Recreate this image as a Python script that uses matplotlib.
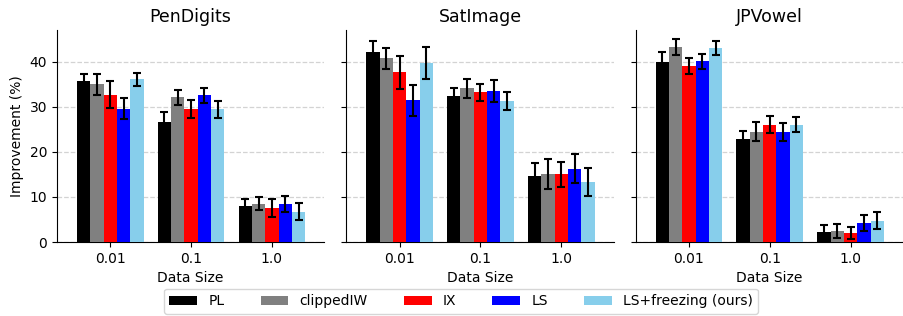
import matplotlib
matplotlib.use("Agg")
import matplotlib.pyplot as plt
import numpy as np

datasets = ["PenDigits", "SatImage", "JPVowel"]
sizes = ["0.01", "0.1", "1.0"]
methods = ["PL", "clippedIW", "IX", "LS", "LS+freezing (ours)"]
colors = ["black", "gray", "red", "blue", "skyblue"]

# values[dataset][method] -> per size
pen_mean = [[35.6, 26.6, 8.0], [35.0, 32.1, 8.5], [32.7, 29.4, 7.6], [29.6, 32.5, 8.5], [36.1, 29.4, 6.7]]
pen_err = [[1.7, 2.2, 1.55], [2.3, 1.65, 1.4], [2.9, 2.0, 2.0], [2.4, 1.6, 1.8], [1.45, 1.9, 1.9]]
sat_mean = [[42.1, 32.3, 14.7], [40.7, 34.1, 15.0], [37.6, 33.2, 15.0], [31.4, 33.4, 16.25], [39.7, 31.2, 13.4]]
sat_err = [[2.4, 1.85, 2.8], [2.4, 2.1, 3.3], [3.6, 1.9, 2.75], [3.4, 2.45, 3.2], [3.5, 2.0, 3.1]]
jp_mean = [[39.85, 22.9, 2.2], [43.2, 24.5, 2.45], [38.96, 26.05, 2.0], [40.07, 24.5, 4.2], [43.0, 26.05, 4.75]]
jp_err = [[2.2, 1.75, 1.6], [1.8, 2.05, 1.65], [1.8, 1.8, 1.3], [1.7, 2.0, 1.8], [1.5, 1.75, 1.9]]

means = [pen_mean, sat_mean, jp_mean]
errs = [pen_err, sat_err, jp_err]

fig, axes = plt.subplots(1, 3, figsize=(9.04, 3.16), dpi=100, sharey=True)
fig.subplots_adjust(left=0.063, right=0.999, bottom=0.234, top=0.905, wspace=0.082)

x = np.arange(len(sizes))
w = 0.165
for ai, ax in enumerate(axes):
    for mi, m in enumerate(methods):
        ax.bar(x + (mi - 2) * w, means[ai][mi], w, yerr=errs[ai][mi], color=colors[mi],
               label=m, capsize=3, error_kw=dict(ecolor="black", elinewidth=1.5, capthick=1.5), zorder=3)
    ax.set_title(datasets[ai], fontsize=12.5)
    ax.set_xticks(x)
    ax.set_xticklabels(sizes)
    ax.set_xlabel("Data Size")
    ax.set_xlim(-0.66, 2.65)
    ax.set_ylim(0, 47)
    ax.set_yticks([0, 10, 20, 30, 40])
    ax.grid(axis="y", linestyle="--", color="lightgray", linewidth=0.9, zorder=0)
    ax.spines["top"].set_visible(False)
    ax.spines["right"].set_visible(False)
    if ai > 0:
        ax.tick_params(axis="y", left=True, labelleft=False)
axes[0].set_ylabel("Improvement (%)")

handles, labels = axes[0].get_legend_handles_labels()
fig.legend(handles, labels, loc="lower center", bbox_to_anchor=(0.51, -0.015), ncol=5,
           columnspacing=2.6, handlelength=2.0, fontsize=10)

fig.savefig("out.png", dpi=100)
